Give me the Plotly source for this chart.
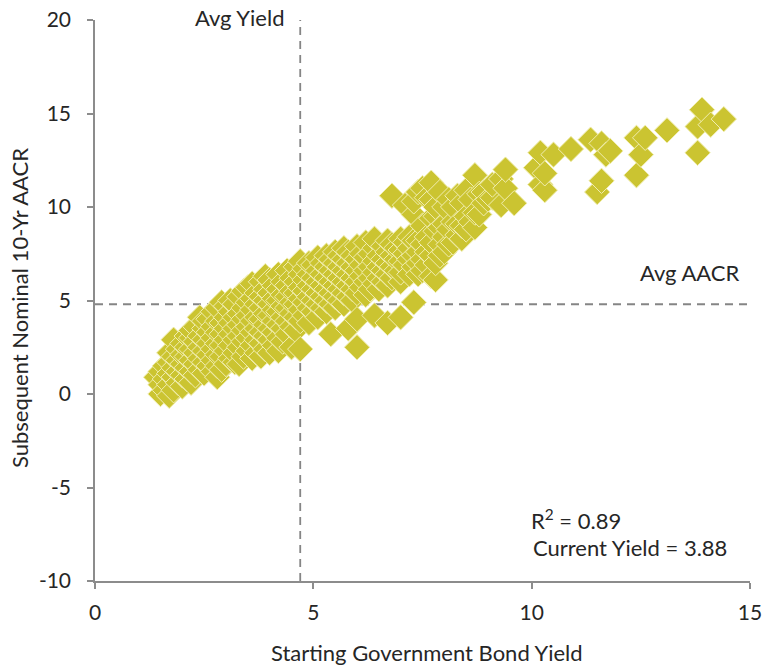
import plotly.graph_objects as go

# Starting government bond yield (%) and subsequent nominal 10-year AACR (%),
# one row per starting-yield bucket.
starting_yield = (
    [1.4]
    + [1.5] * 3 + [1.6] * 3 + [1.7] * 5 + [1.8] * 5 + [1.9] * 4
    + [2.0] * 5 + [2.1] * 5 + [2.2] * 6 + [2.3] * 5 + [2.4] * 5
    + [2.5] * 6 + [2.6] * 5 + [2.7] * 6 + [2.8] * 7 + [2.9] * 6
    + [3.0] * 6 + [3.1] * 6 + [3.2] * 6 + [3.3] * 6 + [3.4] * 6
    + [3.5] * 6 + [3.6] * 7 + [3.7] * 6 + [3.8] * 7 + [3.9] * 7
    + [4.0] * 7 + [4.1] * 6 + [4.2] * 7 + [4.3] * 6 + [4.4] * 6
    + [4.5] * 6 + [4.6] * 6 + [4.7] * 7 + [4.8] * 5 + [4.9] * 6
    + [5.0] * 5 + [5.1] * 6 + [5.2] * 5 + [5.3] * 6 + [5.4] * 6
    + [5.5] * 6 + [5.6] * 5 + [5.7] * 6 + [5.8] * 6 + [5.9] * 5
    + [6.0] * 7 + [6.1] * 4 + [6.2] * 5 + [6.3] * 4 + [6.4] * 6
    + [6.5] * 4 + [6.6] * 4 + [6.7] * 6 + [6.8] * 5 + [6.9] * 3
    + [7.0] * 6 + [7.1] * 4 + [7.2] * 4 + [7.3] * 6 + [7.4] * 5
    + [7.5] * 5 + [7.6] * 4 + [7.7] * 6 + [7.8] * 5 + [7.9] * 4
    + [8.0] * 4 + [8.1] * 3 + [8.2] * 3 + [8.3] * 3 + [8.4] * 3
    + [8.5] * 3 + [8.6] * 2 + [8.7] * 3 + [8.8] * 2 + [8.9] * 2
    + [9.0] * 1 + [9.1] * 2 + [9.3] * 2 + [9.4] * 2 + [9.6] * 1
    + [10.1] * 1 + [10.2] * 2 + [10.3] * 2 + [10.5] * 1 + [10.9] * 1
    + [11.35] * 1 + [11.5] * 1 + [11.6] * 2 + [11.7] * 1 + [11.8] * 1
    + [12.4] * 2 + [12.5] * 1 + [12.6] * 1 + [13.1] * 1 + [13.8] * 2
    + [13.9] * 1 + [14.1] * 1 + [14.4] * 1
)

subsequent_aacr = [
    0.9,
    0.0, 0.5, 1.2,
    0.2, 0.8, 1.5,
    -0.1, 0.5, 1.1, 1.7, 2.2,
    0.2, 0.9, 1.4, 2.0, 2.9,
    0.6, 1.2, 1.8, 2.4,
    0.4, 1.0, 1.6, 2.1, 2.7,
    0.8, 1.4, 2.0, 2.5, 3.1,
    0.6, 1.2, 1.8, 2.4, 3.0, 3.4,
    1.0, 1.6, 2.2, 2.8, 3.6,
    1.3, 1.9, 2.5, 3.1, 4.1,
    1.1, 1.7, 2.3, 2.9, 3.5, 3.9,
    1.5, 2.1, 2.7, 3.3, 4.0,
    1.2, 1.8, 2.4, 3.0, 3.6, 4.4,
    0.9, 1.5, 2.1, 2.7, 3.3, 3.9, 4.6,
    1.3, 2.0, 2.6, 3.2, 3.8, 4.9,
    1.6, 2.3, 2.9, 3.5, 4.1, 4.7,
    1.9, 2.6, 3.2, 3.8, 4.4, 5.0,
    1.7, 2.2, 2.9, 3.5, 4.1, 4.8,
    1.6, 2.5, 3.1, 3.7, 4.3, 5.2,
    2.0, 2.8, 3.4, 4.0, 4.6, 5.5,
    2.3, 3.0, 3.6, 4.2, 4.9, 5.7,
    1.9, 2.6, 3.3, 3.9, 4.5, 5.1, 5.9,
    2.2, 2.9, 3.5, 4.1, 4.8, 5.4,
    2.0, 2.7, 3.3, 4.0, 4.6, 5.2, 6.0,
    2.4, 3.1, 3.7, 4.3, 5.0, 5.6, 6.3,
    2.2, 2.9, 3.5, 4.2, 4.8, 5.4, 6.1,
    2.6, 3.3, 3.9, 4.5, 5.1, 5.8,
    2.3, 3.0, 3.7, 4.4, 5.0, 5.6, 6.4,
    2.8, 3.5, 4.1, 4.7, 5.3, 6.0,
    3.2, 3.9, 4.6, 5.2, 5.8, 6.6,
    2.5, 3.6, 4.3, 4.9, 5.5, 6.2,
    3.4, 4.1, 4.8, 5.4, 6.0, 6.8,
    2.4, 3.9, 4.5, 5.1, 5.7, 6.4, 7.1,
    4.2, 4.9, 5.5, 6.1, 6.7,
    3.8, 4.6, 5.2, 5.8, 6.4, 7.0,
    4.4, 5.0, 5.6, 6.2, 6.9,
    4.1, 4.8, 5.4, 6.0, 6.6, 7.3,
    4.6, 5.2, 5.8, 6.4, 7.0,
    4.4, 5.0, 5.6, 6.2, 6.8, 7.4,
    3.2, 4.8, 5.4, 6.0, 6.6, 7.2,
    4.6, 5.2, 5.8, 6.4, 7.0, 7.6,
    5.0, 5.6, 6.2, 6.8, 7.4,
    4.8, 5.4, 6.0, 6.6, 7.2, 7.8,
    3.5, 5.2, 5.8, 6.4, 7.0, 7.6,
    5.0, 5.6, 6.2, 6.8, 7.4,
    2.5, 4.0, 5.4, 6.0, 6.6, 7.2, 7.9,
    5.7, 6.3, 6.9, 7.5,
    5.3, 6.0, 6.6, 7.3, 8.1,
    5.6, 6.2, 6.8, 7.5,
    4.2, 5.9, 6.5, 7.1, 7.8, 8.3,
    5.6, 6.2, 6.8, 7.4,
    6.0, 6.6, 7.2, 7.9,
    3.8, 5.8, 6.4, 7.0, 7.6, 8.2,
    6.2, 6.8, 7.4, 8.0, 10.6,
    6.6, 7.2, 7.8,
    4.1, 6.0, 6.5, 7.1, 7.7, 8.3,
    6.9, 7.5, 8.1, 10.1,
    6.4, 7.2, 7.8, 8.4,
    4.9, 6.8, 7.4, 8.2, 9.6, 10.3,
    6.4, 7.0, 7.6, 8.2, 10.8,
    6.6, 7.2, 8.0, 9.0, 11.0,
    6.9, 7.6, 8.4, 10.5,
    6.3, 7.4, 8.1, 9.4, 10.4, 11.3,
    6.1, 7.0, 8.7, 9.5, 10.0,
    7.4, 8.0, 8.9, 10.8,
    7.6, 8.4, 9.1, 10.0,
    8.0, 8.8, 10.4,
    8.1, 9.2, 10.0,
    8.5, 9.1, 10.6,
    8.3, 9.0, 10.2,
    8.8, 9.5, 10.9,
    9.2, 10.4,
    8.9, 9.7, 11.7,
    9.6, 10.7,
    10.2, 10.8,
    10.4,
    10.5, 11.2,
    10.1, 11.5,
    11.0, 12.0,
    10.2,
    12.1,
    11.2, 12.9,
    10.9, 11.8,
    12.8,
    13.1,
    13.6,
    10.8,
    11.4, 13.4,
    12.8,
    13.0,
    11.7, 13.7,
    12.8,
    13.7,
    14.1,
    12.9, 14.3,
    15.2,
    14.4,
    14.7,
]

avg_yield = 4.7
avg_aacr = 4.8
r_squared = 0.89
current_yield = 3.88

x_ticks = [0, 5, 10, 15]
x_tick_text = ["0", "5", "10", "15"]
y_ticks = [-10, -5, 0, 5, 10, 15, 20]
y_tick_text = ["-10", "-5", "0", "5", "10", "15", "20"]

FONT = "Lato, 'Open Sans', sans-serif"
FS = 22
TICK_FS = 21
TEXT = "#262626"
AXIS = "#8c8c8c"
DASH = "#858585"

fig = go.Figure()

fig.add_trace(go.Scatter(
    x=starting_yield,
    y=subsequent_aacr,
    mode="markers",
    marker=dict(
        symbol="diamond",
        size=19.5,
        color="#cbc431",
        line=dict(color="#f1eeb0", width=1),
    ),
    hoverinfo="x+y",
    showlegend=False,
))

# Average reference lines
fig.add_shape(type="line", xref="x", yref="paper", x0=avg_yield, x1=avg_yield,
              y0=0, y1=1, layer="below",
              line=dict(color=DASH, width=1.8, dash="8px,6px"))
fig.add_shape(type="line", xref="paper", yref="y", x0=0, x1=1,
              y0=avg_aacr, y1=avg_aacr, layer="below",
              line=dict(color=DASH, width=1.8, dash="8px,6px"))

annotations = [
    dict(text="Avg Yield", x=286, y=18, xanchor="right", yanchor="middle"),
    dict(text="Avg AACR", x=742, y=272, xanchor="right", yanchor="middle"),
    dict(text=f"R<sup>2</sup> = {r_squared:.2f}", x=529, y=519,
         xanchor="left", yanchor="middle"),
    dict(text=f"Current Yield = {current_yield:.2f}", x=531, y=547,
         xanchor="left", yanchor="middle"),
    dict(text="Starting Government Bond Yield", x=427, y=652,
         xanchor="center", yanchor="middle"),
    dict(text="Subsequent Nominal 10-Yr AACR", x=19, y=308,
         xanchor="center", yanchor="middle", textangle=-90),
]

W, H = 763, 668
ML, MR, MT, MB = 95, 13, 20, 87
pw, ph = W - ML - MR, H - MT - MB
for a in annotations:
    a["x"] = (a["x"] - ML) / pw
    a["y"] = 1 - (a["y"] - MT) / ph
    a.update(xref="paper", yref="paper", showarrow=False,
             font=dict(family=FONT, size=FS, color=TEXT))

fig.update_layout(
    width=W, height=H,
    margin=dict(l=ML, r=MR, t=MT, b=MB, pad=0, autoexpand=False),
    paper_bgcolor="white", plot_bgcolor="white",
    font=dict(family=FONT, size=FS, color=TEXT),
    annotations=annotations,
    xaxis=dict(
        range=[0, 15], tickvals=x_ticks, ticktext=x_tick_text,
        showgrid=False, zeroline=False, automargin=False,
        showline=True, linecolor=AXIS, linewidth=1.5,
        ticks="outside", ticklen=6, tickwidth=1.5, tickcolor=AXIS,
        ticklabelstandoff=6, ticklabeloverflow="allow",
        tickfont=dict(family=FONT, size=TICK_FS, color=TEXT),
    ),
    yaxis=dict(
        range=[-10, 20], tickvals=y_ticks, ticktext=y_tick_text,
        showgrid=False, zeroline=False, automargin=False,
        showline=True, linecolor=AXIS, linewidth=1.5,
        ticks="outside", ticklen=6, tickwidth=1.5, tickcolor=AXIS,
        ticklabelstandoff=12, ticklabeloverflow="allow",
        tickfont=dict(family=FONT, size=TICK_FS, color=TEXT),
    ),
)

fig.write_html("out.html")
